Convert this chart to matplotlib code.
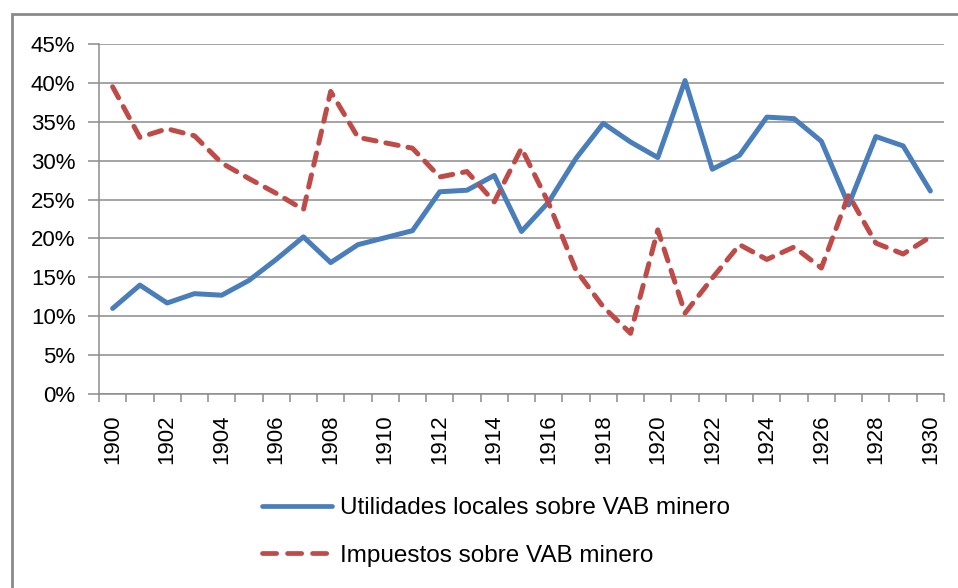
import matplotlib.pyplot as plt
from matplotlib.patches import Rectangle
from matplotlib.ticker import FixedLocator, PercentFormatter

# Data
years = list(range(1900, 1931))
utilidades = [11.0, 14.0, 11.7, 12.9, 12.7, 14.6, 17.3, 20.2, 16.9, 19.2, 20.1,
              21.0, 26.0, 26.2, 28.1, 20.9, 24.7, 30.3, 34.8, 32.4, 30.4,
              40.3, 28.9, 30.7, 35.6, 35.4, 32.5, 24.3, 33.1, 31.9, 26.1]
impuestos = [39.5, 33.0, 34.1, 33.2, 29.7, 27.7, 25.8, 23.7, 38.9, 33.0, 32.3,
             31.6, 27.9, 28.6, 24.7, 31.6, 24.5, 15.9, 11.2, 7.8, 21.1,
             10.4, 14.9, 19.2, 17.3, 18.9, 16.2, 25.6, 19.4, 18.0, 20.2]
labels = ['Utilidades locales sobre VAB minero', 'Impuestos sobre VAB minero']

blue = '#4A7EBB'
red = '#BE4B48'
grey = '#8C8C8C'

plt.rcParams['font.family'] = ['Liberation Sans', 'DejaVu Sans']

fig = plt.figure(figsize=(9.58, 5.88), dpi=100)
ax = fig.add_axes([99/958, 1-394/588, (944-99)/958, 350/588])

x = list(range(len(years)))
ax.plot(x, utilidades, color=blue, lw=3.6, solid_capstyle='round',
        solid_joinstyle='round', label=labels[0])
ax.plot(x, impuestos, color=red, lw=3.6, dashes=(2.5, 2.0),
        dash_capstyle='round', dash_joinstyle='round', label=labels[1])

ax.set_xlim(-0.5, len(years) - 0.5)
ax.set_ylim(0, 45)
ax.set_yticks(range(0, 46, 5))
ax.yaxis.set_major_formatter(PercentFormatter(decimals=0))
ax.grid(axis='y', color=grey, lw=1.1)
ax.set_axisbelow(True)

ax.set_xticks(x[::2])
ax.set_xticklabels([str(y) for y in years[::2]], rotation=90)
ax.xaxis.set_minor_locator(FixedLocator([i - 0.5 for i in range(len(years) + 1)]))
ax.tick_params(axis='x', which='major', length=0, pad=15, labelsize=16)
ax.tick_params(axis='x', which='minor', length=6, color=grey, width=1.1)
ax.tick_params(axis='y', length=8, color=grey, width=1.1, labelsize=16, pad=9)

for side in ['top', 'right']:
    ax.spines[side].set_visible(False)
for side in ['left', 'bottom']:
    ax.spines[side].set_color(grey)
    ax.spines[side].set_linewidth(1.1)

leg = fig.legend(loc='upper left', bbox_to_anchor=(262/958, 1-497/588),
                 frameon=False, handlelength=2.9, handletextpad=0.3,
                 labelspacing=1.05, borderpad=0, borderaxespad=0,
                 prop={'size': 17.5})
leg_lines = leg.get_lines()
for line in leg_lines:
    line.set_linewidth(3.4)
leg_lines[1].set_dashes((3.0, 2.3))

# outer chart border
fig.add_artist(Rectangle((12/958, -0.05), 1.1, 1-14/588+0.05, transform=fig.transFigure,
                         fill=False, edgecolor='#8A8A8A', lw=2.0))

fig.savefig('out.png', dpi=100)
